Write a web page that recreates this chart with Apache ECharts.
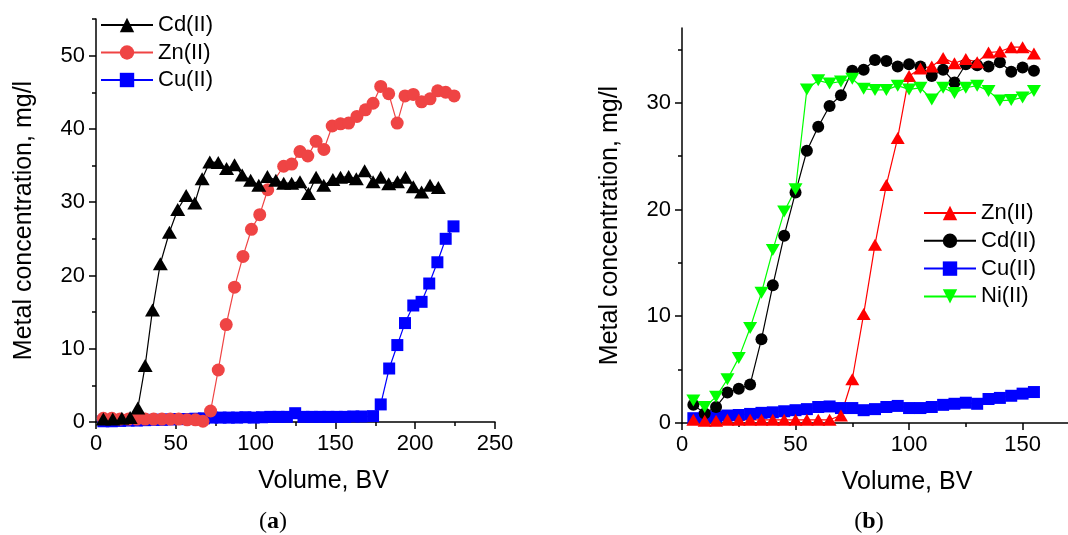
<!DOCTYPE html>
<html>
<head>
<meta charset="utf-8">
<script src="https://cdn.jsdelivr.net/npm/echarts@6/dist/echarts.min.js"></script>
<style>
  html, body { margin: 0; padding: 0; background: #fff; }
  #chart { width: 1068px; height: 535px; }
</style>
</head>
<body>
<div id="chart"></div>
<script>
// panel (a): volume (BV) and concentration (mg/l)
const cdVolA = [4.6, 10.5, 16.2, 21.4, 26.2, 30.8, 35.4, 40.3, 46.0, 51.2, 56.5, 61.9, 66.5, 71.3, 76.6, 81.8, 86.8, 91.6, 96.9, 102.0, 107.4, 112.7, 117.6, 122.6, 127.8, 133.1, 137.9, 142.7, 148.4, 153.2, 158.3, 163.1, 168.3, 173.6, 178.4, 183.4, 188.9, 193.9, 198.8, 204.0, 209.3, 214.5]
const cdConcA = [0.4, 0.4, 0.5, 0.6, 1.9, 7.7, 15.3, 21.6, 25.9, 29.0, 30.9, 29.9, 33.2, 35.5, 35.4, 34.6, 35.1, 33.7, 33.0, 32.3, 33.5, 33.0, 32.6, 32.6, 32.8, 31.2, 33.4, 32.3, 33.1, 33.4, 33.5, 33.2, 34.3, 32.8, 33.4, 32.5, 32.8, 33.4, 32.1, 31.4, 32.3, 32.0]

const znVolA = [4.6, 9.9, 15.1, 20.4, 25.6, 30.8, 36.1, 41.3, 46.6, 51.8, 57.1, 62.3, 67.0, 71.8, 76.6, 81.6, 86.8, 92.1, 97.4, 102.6, 107.6, 117.6, 122.6, 127.8, 132.7, 137.9, 142.8, 148.0, 153.2, 158.3, 163.5, 168.8, 173.6, 178.4, 183.4, 188.7, 193.6, 198.8, 204.0, 209.3, 214.1, 219.1, 224.4]
const znConcA = [0.5, 0.5, 0.4, 0.4, 0.4, 0.4, 0.4, 0.4, 0.4, 0.4, 0.3, 0.3, 0.1, 1.5, 7.1, 13.3, 18.4, 22.6, 26.3, 28.3, 31.7, 34.9, 35.2, 36.9, 36.3, 38.3, 37.2, 40.4, 40.7, 40.8, 41.7, 42.6, 43.5, 45.8, 44.8, 40.8, 44.5, 44.7, 43.7, 44.1, 45.2, 45.0, 44.5]

const cuVolA = [4.6, 9.9, 15.1, 20.4, 25.6, 30.8, 36.1, 41.3, 46.6, 51.8, 57.1, 62.3, 67.6, 72.8, 78.0, 83.2, 88.4, 93.6, 98.8, 104.0, 109.2, 114.4, 119.6, 124.8, 130.0, 135.2, 140.4, 145.6, 150.8, 156.0, 161.2, 166.4, 173.6, 178.4, 183.7, 188.8, 193.6, 198.8, 204.0, 208.8, 213.9, 219.1, 224.0]
const cuConcA = [0.1, 0.1, 0.15, 0.2, 0.2, 0.25, 0.3, 0.3, 0.35, 0.4, 0.4, 0.45, 0.5, 0.6, 0.6, 0.6, 0.6, 0.65, 0.6, 0.65, 0.7, 0.7, 0.7, 1.2, 0.7, 0.7, 0.7, 0.7, 0.7, 0.7, 0.75, 0.75, 0.8, 2.4, 7.3, 10.5, 13.5, 15.9, 16.4, 18.9, 21.8, 25.0, 26.7]

// panel (b): all series share the same volumes
const volB = [5, 10, 15, 20, 25, 30, 35, 40, 45, 50, 55, 60, 65, 70, 75, 80, 85, 90, 95, 100, 105, 110, 115, 120, 125, 130, 135, 140, 145, 150, 155]
const znConcB = [0.3, 0.2, 0.2, 0.3, 0.3, 0.3, 0.3, 0.3, 0.3, 0.3, 0.3, 0.3, 0.3, 0.7, 4.1, 10.2, 16.7, 22.3, 26.7, 32.5, 33.2, 33.4, 34.2, 33.7, 34.1, 33.8, 34.7, 34.8, 35.2, 35.2, 34.6]
const cdConcB = [1.7, 0.9, 1.5, 2.85, 3.2, 3.6, 7.85, 12.9, 17.55, 21.6, 25.5, 27.75, 29.7, 30.7, 33.0, 33.1, 34.0, 33.9, 33.4, 33.6, 33.4, 32.5, 33.1, 31.9, 33.6, 33.5, 33.4, 33.8, 32.9, 33.3, 33.0]
const cuConcB = [0.45, 0.55, 0.6, 0.7, 0.75, 0.85, 0.95, 1.0, 1.1, 1.2, 1.3, 1.5, 1.55, 1.4, 1.4, 1.2, 1.3, 1.5, 1.6, 1.4, 1.4, 1.5, 1.7, 1.8, 1.9, 1.8, 2.25, 2.35, 2.55, 2.75, 2.9]
const niConcB = [2.1, 1.5, 2.45, 4.1, 6.1, 8.9, 12.2, 16.2, 19.8, 21.9, 31.25, 32.1, 31.8, 32.0, 32.25, 31.3, 31.2, 31.2, 31.6, 31.25, 31.4, 30.3, 31.4, 30.9, 31.4, 31.6, 31.1, 30.2, 30.25, 30.5, 31.1]

// ticks
const xMajorA = [0, 50, 100, 150, 200, 250]
const xMinorA = [25, 75, 125, 175, 225]
const yMajorA = [0, 10, 20, 30, 40, 50]
const yMinorA = [5, 15, 25, 35, 45, 55]
const xMajorB = [0, 50, 100, 150]
const xMinorB = [25, 75, 125]
const yMajorB = [0, 10, 20, 30]
const yMinorB = [5, 15, 25, 35]

const FONT = '"Liberation Sans", Arial, sans-serif'
const SERIF = '"Liberation Serif", serif'
const tickStyle = { color: '#000', width: 1.5 }

const mainAxis = (gridIndex, position, min, max, majors, extra) => ({
  type: 'value',
  gridIndex,
  position,
  min,
  max,
  splitLine: { show: false },
  axisLine: { onZero: false, lineStyle: tickStyle },
  axisTick: { customValues: majors, length: 7, lineStyle: tickStyle },
  axisLabel: { customValues: majors, color: '#000', fontSize: 22, fontFamily: FONT, margin: 11 },
  ...extra
})

const minorAxis = (gridIndex, position, min, max, minors) => ({
  type: 'value',
  gridIndex,
  position,
  min,
  max,
  splitLine: { show: false },
  axisLine: { show: false, onZero: false },
  axisTick: { customValues: minors, length: 4, lineStyle: tickStyle },
  axisLabel: { show: false }
})

const nameStyle = { color: '#000', fontSize: 25, fontFamily: FONT }

const line = (name, xs, ys, color, symbol, size, axis, extra) => ({
  name,
  type: 'line',
  xAxisIndex: axis,
  yAxisIndex: axis,
  data: xs.map((x, i) => [x, ys[i]]),
  symbol,
  symbolSize: size,
  clip: false,
  itemStyle: { color },
  lineStyle: { color, width: 1.2 },
  emphasis: { disabled: true },
  ...extra
})

const legendBase = {
  orient: 'vertical',
  padding: 0,
  itemWidth: 52,
  itemHeight: 18,
  selectedMode: false,
  textStyle: { color: '#000', fontSize: 22, fontFamily: FONT }
}

const chart = echarts.init(document.getElementById('chart'))

chart.setOption({
  animation: false,
  backgroundColor: '#fff',
  grid: [
    { left: 96, top: 19, width: 399, height: 403 },
    { left: 682, top: 28, width: 386, height: 395 }
  ],
  xAxis: [
    mainAxis(0, 'bottom', 0, 250, xMajorA, {
      name: 'Volume, BV', nameLocation: 'middle', nameGap: 47,
      nameTextStyle: { ...nameStyle, padding: [0, 0, 0, 56] }
    }),
    minorAxis(0, 'bottom', 0, 250, xMinorA),
    mainAxis(1, 'bottom', 0, 170, xMajorB, {
      name: 'Volume, BV', nameLocation: 'middle', nameGap: 47,
      nameTextStyle: { ...nameStyle, padding: [0, 0, 0, 64] }
    }),
    minorAxis(1, 'bottom', 0, 170, xMinorB)
  ],
  yAxis: [
    mainAxis(0, 'left', 0, 55, yMajorA, {
      name: 'Metal concentration, mg/l', nameLocation: 'middle', nameGap: 59,
      nameTextStyle: nameStyle
    }),
    minorAxis(0, 'left', 0, 55, yMinorA),
    mainAxis(1, 'left', 0, 37, yMajorB, {
      name: 'Metal concentration, mg/l', nameLocation: 'middle', nameGap: 59,
      nameTextStyle: nameStyle
    }),
    minorAxis(1, 'left', 0, 37, yMinorB)
  ],
  legend: [
    {
      ...legendBase,
      data: ['Cd(II)', 'Zn(II)', 'Cu(II)'],
      left: 100,
      top: 14,
      itemGap: 5.5
    },
    {
      ...legendBase,
      data: ['Zn(II)@b', 'Cd(II)@b', 'Cu(II)@b', 'Ni(II)@b'],
      formatter: n => n.split('@')[0],
      left: 923,
      top: 202,
      itemGap: 5.8
    }
  ],
  series: [
    line('Cu(II)', cuVolA, cuConcA, '#0000ff', 'rect', 12, 0),
    line('Zn(II)', znVolA, znConcA, '#ef4444', 'circle', 13, 0),
    line('Cd(II)', cdVolA, cdConcA, '#000000', 'triangle', [15, 13], 0),
    line('Cu(II)@b', volB, cuConcB, '#0000ff', 'rect', 12, 2),
    line('Cd(II)@b', volB, cdConcB, '#000000', 'circle', 12, 2),
    line('Zn(II)@b', volB, znConcB, '#ff0000', 'triangle', [14, 12], 2),
    line('Ni(II)@b', volB, niConcB, '#00ff00', 'triangle', [14, 12], 2, { symbolRotate: 180 })
  ],
  graphic: [
    {
      type: 'text', x: 273, y: 522,
      style: {
        text: '({b|a})', textAlign: 'center', textVerticalAlign: 'middle',
        fontSize: 24, fontFamily: SERIF, fill: '#000',
        rich: { b: { fontWeight: 'bold', fontSize: 24, fontFamily: SERIF } }
      }
    },
    {
      type: 'text', x: 869, y: 522,
      style: {
        text: '({b|b})', textAlign: 'center', textVerticalAlign: 'middle',
        fontSize: 24, fontFamily: SERIF, fill: '#000',
        rich: { b: { fontWeight: 'bold', fontSize: 24, fontFamily: SERIF } }
      }
    }
  ]
})
</script>
</body>
</html>
